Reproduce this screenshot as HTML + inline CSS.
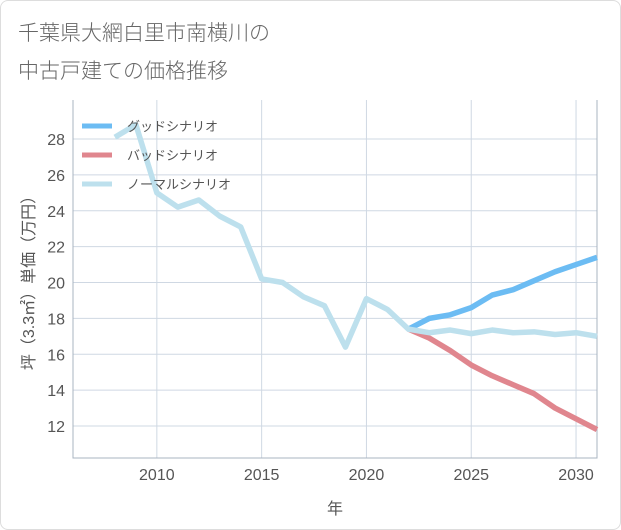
<!DOCTYPE html>
<html><head><meta charset="utf-8"><style>
body{margin:0;background:#fff;font-family:"Liberation Sans","Noto Sans CJK JP",sans-serif}
#card{position:absolute;left:0;top:0;width:619px;height:528px;border:1px solid #ddd;border-radius:8px;background:#fff}
</style></head><body>
<div id="card">
<svg id="c" width="621" height="530" style="position:absolute;left:-1px;top:-1px">
<text x="18" y="40" font-size="21" fill="#666" font-family="Noto Sans CJK JP, sans-serif" font-weight="300">千葉県大網白里市南横川の</text>
<text x="18" y="78" font-size="21" fill="#666" font-family="Noto Sans CJK JP, sans-serif" font-weight="300">中古戸建ての価格推移</text>
</svg></div>
<script>
const years=[2008,2009,2010,2011,2012,2013,2014,2015,2016,2017,2018,2019,2020,2021,2022,2023,2024,2025,2026,2027,2028,2029,2030,2031];
const normal=[28.1,28.8,25.0,24.2,24.6,23.7,23.1,20.2,20.0,19.2,18.7,16.4,19.1,18.5,17.4,17.2,17.35,17.15,17.35,17.2,17.25,17.1,17.2,17.0];
const futureYears=[2022,2023,2024,2025,2026,2027,2028,2029,2030,2031];
const good=[17.4,18.0,18.2,18.6,19.3,19.6,20.1,20.6,21.0,21.4];
const bad=[17.4,16.9,16.2,15.4,14.8,14.3,13.8,13.0,12.4,11.8];
const xTicks=[2010,2015,2020,2025,2030];
const yTicks=[12,14,16,18,20,22,24,26,28];
const NS='http://www.w3.org/2000/svg';
const svg=document.getElementById('c');
const L=73,R=597,T=100,B=458;
const x=v=>L+(v-2006)/(2031-2006)*(R-L);
const y=v=>139+(28-v)*(426-139)/16;
function mk(t,a){const e=document.createElementNS(NS,t);for(const k in a)e.setAttribute(k,a[k]);svg.appendChild(e);return e;}
const bg=mk('rect',{x:L,y:T,width:R-L,height:B-T,fill:'#fff',stroke:'none'});


yTicks.forEach(v=>{
 const g=mk('line',{x1:L,x2:R,y1:y(v),y2:y(v),stroke:'#cfd8e3','stroke-width':1});
 
 
 const t=mk('text',{x:L-8,y:y(v)+6,'text-anchor':'end','font-size':16,fill:'#555'});t.textContent=v;
 
 
});
xTicks.forEach(v=>{
 const g=mk('line',{x1:x(v),x2:x(v),y1:T,y2:B,stroke:'#cfd8e3','stroke-width':1});
 
 
 const t=mk('text',{x:x(v),y:B+22,'text-anchor':'middle','font-size':16,fill:'#555'});t.textContent=v;
 
 
});
const ax=mk('path',{d:`M${L},${T}V${B}H${R}V${T}`,fill:'none',stroke:'#aab4c0','stroke-width':1});


function line(xs,ys,col,name){
 const p=mk('polyline',{points:xs.map((v,i)=>x(v)+','+y(ys[i])).join(' '),fill:'none',stroke:col,'stroke-width':5.5,'stroke-linejoin':'round'});
 
 
}
line(futureYears,bad,'#e0868e','bad-scenario-line');
line(futureYears,good,'#6cbcf3','good-scenario-line');
line(years,normal,'#bde0ed','normal-scenario-line');
const legend=[['グッドシナリオ','#6cbcf3'],['バッドシナリオ','#e0868e'],['ノーマルシナリオ','#bde0ed']];
legend.forEach((l,i)=>{
 const yy=126+i*29;
 const s=mk('line',{x1:82,x2:112,y1:yy,y2:yy,stroke:l[1],'stroke-width':5});
 
 
 const t=mk('text',{x:127,y:yy+5,'font-size':13,fill:'#555'});t.textContent=l[0];
 
 
});
const yt=mk('text',{x:0,y:0,'font-size':16,fill:'#555','text-anchor':'middle',transform:`translate(34,${(T+B)/2}) rotate(-90)`});
yt.textContent='坪（3.3㎡）単価（万円）';


const xt=mk('text',{x:(L+R)/2,y:514,'font-size':16,fill:'#555','text-anchor':'middle'});
xt.textContent='年';


</script>
</body></html>
